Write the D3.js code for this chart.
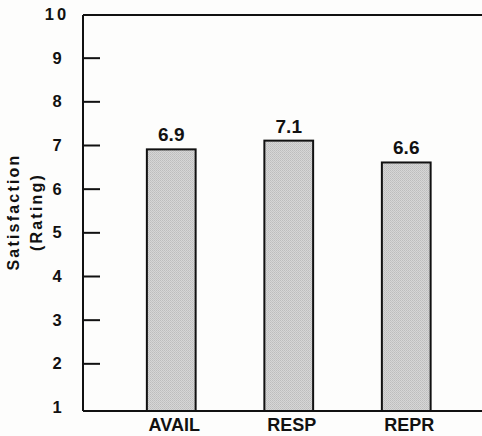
<!DOCTYPE html>
<html>
<head>
<meta charset="utf-8">
<script src="https://cdn.jsdelivr.net/npm/d3@7"></script>
<style>
  body { margin: 0; background: #fdfdfc; }
  svg { display: block; font-family: "Liberation Sans", Arial, sans-serif; }
</style>
</head>
<body>
<div id="chart"></div>
<script>
const categories = ["AVAIL", "RESP", "REPR"]
const ratings = [6.9, 7.1, 6.6]
const yTicks = [1, 2, 3, 4, 5, 6, 7, 8, 9, 10]

const width = 482
const height = 436

const svg = d3.select("#chart")
  .append("svg")
  .attr("width", width)
  .attr("height", height)

// halftone-ish gray fill like the scanned bars
const pat = svg.append("defs").append("pattern")
  .attr("id", "dots")
  .attr("width", 2)
  .attr("height", 2)
  .attr("patternUnits", "userSpaceOnUse")
pat.append("rect").attr("width", 2).attr("height", 2).attr("fill", "#d6d6d6")
pat.append("rect").attr("width", 1).attr("height", 1).attr("fill", "#bdbdbd")
pat.append("rect").attr("x", 1).attr("y", 1).attr("width", 1).attr("height", 1).attr("fill", "#c4c4c4")

const x0 = 83, x1 = 482
const y = d3.scaleLinear().domain([1, 10]).range([407, 14])
const x = d3.scaleBand()
  .domain(categories)
  .range([112.5, 465])
  .paddingInner(0.585)
  .paddingOuter(0.2925)

// y axis: ticks pointing inward, labels centered
const yAxis = svg.append("g")
  .attr("transform", `translate(${x0},0)`)
  .call(d3.axisRight(y).tickValues(yTicks.slice(1, 9)).tickSize(17).tickFormat(""))
yAxis.select(".domain").remove()
yAxis.selectAll(".tick line").attr("stroke", "#111").attr("stroke-width", 2)

svg.append("g")
  .selectAll("text")
  .data(yTicks)
  .join("text")
  .attr("x", 57)
  .attr("y", d => y(d))
  .attr("dy", "0.36em")
  .attr("text-anchor", "middle")
  .attr("font-size", 16.5)
  .attr("font-weight", "bold")
  .attr("letter-spacing", d => d == 10 ? 3 : 0)
  .attr("fill", "#111")
  .text(d => d)

// bars
svg.append("g")
  .selectAll("rect")
  .data(ratings)
  .join("rect")
  .attr("x", (d, i) => x(categories[i]))
  .attr("y", d => y(d))
  .attr("width", x.bandwidth())
  .attr("height", d => 411 - y(d))
  .attr("fill", "url(#dots)")
  .attr("stroke", "#111")
  .attr("stroke-width", 2)

svg.append("g")
  .selectAll("text")
  .data(ratings)
  .join("text")
  .attr("x", (d, i) => x(categories[i]) + x.bandwidth() / 2)
  .attr("y", d => y(d) - 8)
  .attr("text-anchor", "middle")
  .attr("font-size", 19)
  .attr("font-weight", "bold")
  .attr("fill", "#111")
  .text(d => d.toFixed(1))

// frame lines: left, top, bottom
svg.append("line").attr("x1", x0).attr("x2", x0).attr("y1", 15).attr("y2", 411)
  .attr("stroke", "#111").attr("stroke-width", 2)
svg.append("line").attr("x1", x0).attr("x2", x1).attr("y1", 15).attr("y2", 15)
  .attr("stroke", "#111").attr("stroke-width", 2)
svg.append("line").attr("x1", x0).attr("x2", x1).attr("y1", 411).attr("y2", 411)
  .attr("stroke", "#111").attr("stroke-width", 2)

// category labels
svg.append("g")
  .selectAll("text")
  .data(categories)
  .join("text")
  .attr("x", d => x(d) + x.bandwidth() / 2 + 3)
  .attr("y", 431)
  .attr("text-anchor", "middle")
  .attr("font-size", 18)
  .attr("font-weight", "bold")
  .attr("fill", "#111")
  .text(d => d)

// y title
const title = svg.append("text")
  .attr("transform", "translate(0,212) rotate(-90)")
  .attr("text-anchor", "middle")
  .attr("font-size", 16)
  .attr("font-weight", "bold")
  .attr("letter-spacing", 2.2)
  .attr("fill", "#111")
title.append("tspan").attr("x", 0).attr("y", 19).text("Satisfaction")
title.append("tspan").attr("x", 0).attr("y", 42).text("(Rating)")
</script>
</body>
</html>
